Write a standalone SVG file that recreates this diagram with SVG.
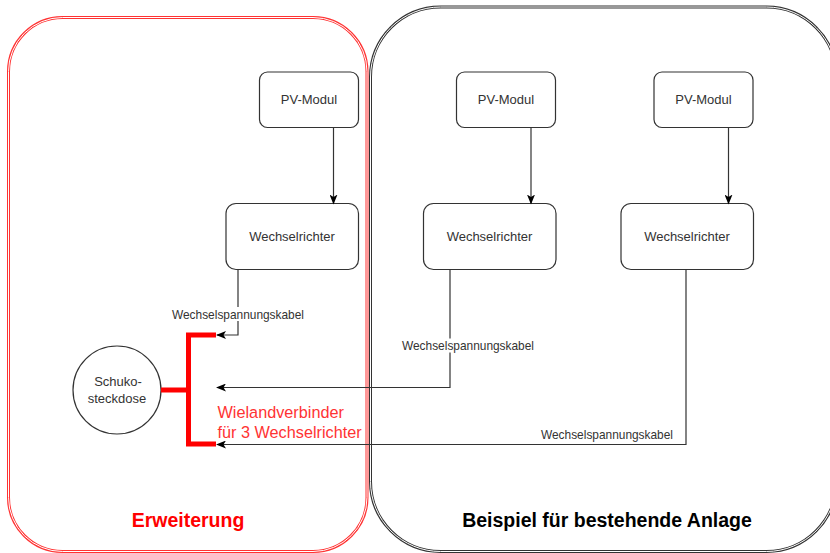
<svg xmlns="http://www.w3.org/2000/svg" width="830" height="553" viewBox="0 0 830 553">
<style>
.box{fill:#fff;stroke:#333;stroke-width:1.2}
.lbl{font-family:"Liberation Sans",Arial,sans-serif;font-size:13px;fill:#333;text-anchor:middle}
.elbl{font-family:"Liberation Sans",Arial,sans-serif;font-size:11.9px;fill:#333;text-anchor:middle}
.edge{fill:none;stroke:#333;stroke-width:1.2}
.white{fill:#fff}
</style>
<defs>
<marker id="arr" viewBox="0 0 10 8" refX="9" refY="4" markerWidth="10" markerHeight="8" markerUnits="userSpaceOnUse" orient="auto">
<path d="M0,0 L10,4 L0,8 L2.5,4 Z" fill="#000"/>
</marker>
</defs>
<rect width="830" height="553" fill="#fff"/>
<g id="container-erweiterung">
<rect x="8.5" y="17.5" width="358.5" height="534" rx="54" fill="none" stroke="#ff3333" stroke-width="3"/>
<rect x="8.5" y="17.5" width="358.5" height="534" rx="54" fill="none" stroke="#fff" stroke-width="1"/>
<text x="188" y="527" font-family="'Liberation Sans',Arial,sans-serif" font-size="19.5" font-weight="bold" fill="#ff0000" text-anchor="middle">Erweiterung</text>
</g>
<g id="container-beispiel">
<rect x="370.5" y="7" width="466" height="544.5" rx="70" fill="none" stroke="#333" stroke-width="3"/>
<rect x="370.5" y="7" width="466" height="544.5" rx="70" fill="none" stroke="#fff" stroke-width="1"/>
<text x="607" y="527" font-family="'Liberation Sans',Arial,sans-serif" font-size="19.5" font-weight="bold" fill="#000" text-anchor="middle">Beispiel für bestehende Anlage</text>
</g>
<g id="pv1"><rect class="box" x="259.5" y="72" width="99" height="55.5" rx="8"/><text class="lbl" x="309" y="104">PV-Modul</text></g>
<g id="pv2"><rect class="box" x="456.5" y="72" width="99" height="55.5" rx="8"/><text class="lbl" x="506" y="104">PV-Modul</text></g>
<g id="pv3"><rect class="box" x="654" y="72" width="99" height="55.5" rx="8"/><text class="lbl" x="703.5" y="104">PV-Modul</text></g>
<g id="wr1"><rect class="box" x="226" y="203.5" width="132.5" height="66" rx="10"/><text class="lbl" x="292" y="241">Wechselrichter</text></g>
<g id="wr2"><rect class="box" x="423.5" y="203.5" width="132.5" height="66" rx="10"/><text class="lbl" x="489.5" y="241">Wechselrichter</text></g>
<g id="wr3"><rect class="box" x="621" y="203.5" width="132.5" height="66" rx="10"/><text class="lbl" x="687" y="241">Wechselrichter</text></g>
<g id="schuko"><circle cx="117" cy="390" r="44" fill="#fff" stroke="#333" stroke-width="1.2"/><text class="lbl" x="118" y="386">Schuko-</text><text class="lbl" x="117" y="403">steckdose</text></g>
<g id="wielandverbinder">
<path d="M216,335 H188.5 V444 H216 M161,390 H188.5" fill="none" stroke="#ff0000" stroke-width="5"/>
<text x="217.5" y="418" font-family="'Liberation Sans',Arial,sans-serif" font-size="16.25" fill="#ff3333">Wielandverbinder</text>
<text x="217.5" y="437.5" font-family="'Liberation Sans',Arial,sans-serif" font-size="16.25" fill="#ff3333">für 3 Wechselrichter</text>
</g>
<g id="connectors">
<path class="edge" d="M333.5,127.5 V203.5" marker-end="url(#arr)"/>
<path class="edge" d="M531,127.5 V203.5" marker-end="url(#arr)"/>
<path class="edge" d="M728.5,127.5 V203.5" marker-end="url(#arr)"/>
<path class="edge" d="M238,269.5 V335 H217" marker-end="url(#arr)"/>
<path class="edge" d="M450,269.5 V387.5 H217" marker-end="url(#arr)"/>
<path class="edge" d="M686,269.5 V444.5 H217" marker-end="url(#arr)"/>
<rect class="white" x="170" y="307" width="136" height="14"/>
<text class="elbl" x="238" y="318.5">Wechselspannungskabel</text>
<rect class="white" x="400" y="338.5" width="136" height="14"/>
<text class="elbl" x="468" y="350">Wechselspannungskabel</text>
<text class="elbl" x="607" y="438.5">Wechselspannungskabel</text>
</g>
</svg>
